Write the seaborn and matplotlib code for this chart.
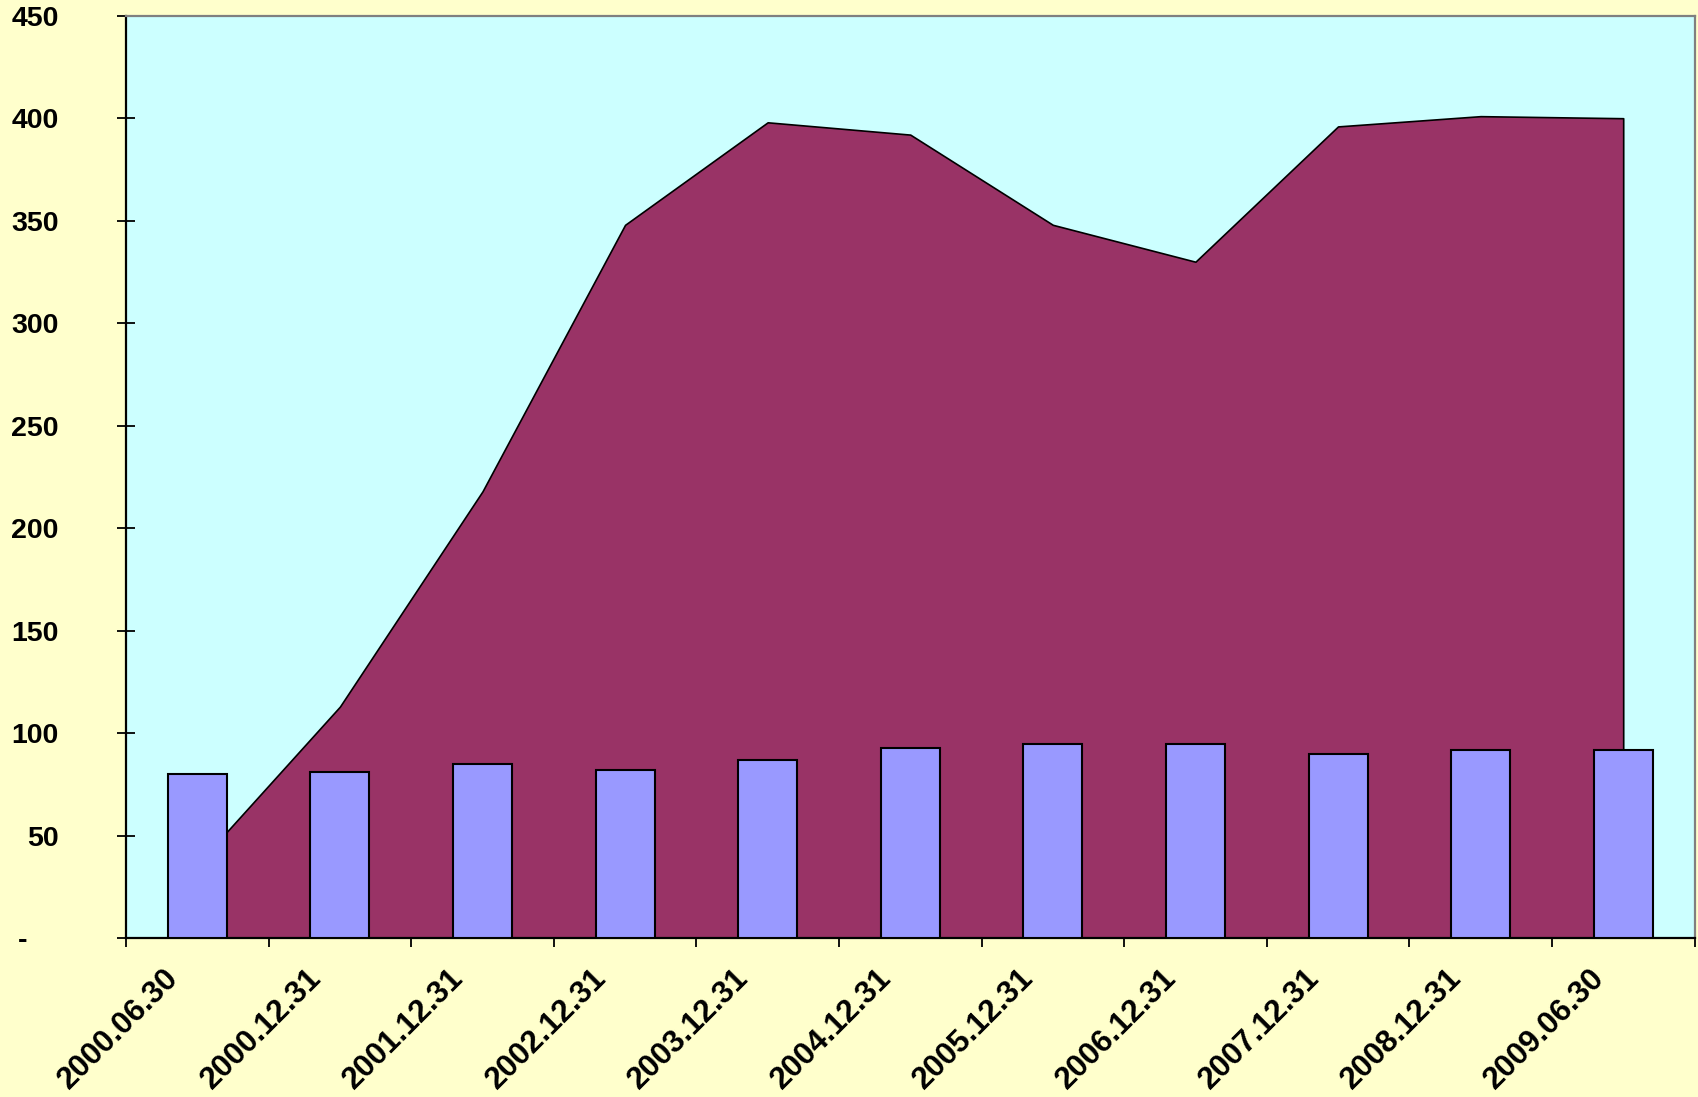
import matplotlib
matplotlib.use("Agg")
import matplotlib.pyplot as plt
from matplotlib.transforms import ScaledTranslation
from matplotlib.ticker import FixedLocator, FuncFormatter
import seaborn as sns
import pandas as pd
import numpy as np

# ---- data ----
categories = ["2000.06.30", "2000.12.31", "2001.12.31", "2002.12.31", "2003.12.31",
              "2004.12.31", "2005.12.31", "2006.12.31", "2007.12.31", "2008.12.31",
              "2009.06.30"]
area_values = [36, 113, 218, 348, 398, 392, 348, 330, 396, 401, 400]
bar_values = [80, 81, 85, 82, 87, 93, 95, 95, 90, 92, 92]
y_ticks = [0, 50, 100, 150, 200, 250, 300, 350, 400, 450]

df = pd.DataFrame({"date": categories, "bar": bar_values, "area": area_values})

sns.set_theme(style="white")
plt.rcParams["font.family"] = ["Liberation Sans", "DejaVu Sans"]
plt.rcParams["text.color"] = "black"
plt.rcParams["xtick.color"] = "black"
plt.rcParams["ytick.color"] = "black"

fig = plt.figure(figsize=(16.98, 10.97), dpi=100, facecolor="#FFFFCC")
ax = fig.add_axes([126 / 1698, 1 - 938.3 / 1097, (1694.5 - 126) / 1698, (938.3 - 15.7) / 1097])
ax.set_facecolor("#CCFFFF")

# area series at category centres
xpos = np.arange(len(categories))
ax.fill_between(xpos, 0, df["area"], facecolor="#993366", edgecolor="black",
                linewidth=1.2, zorder=1)

# bars on top
sns.barplot(data=df, x="date", y="bar", ax=ax, color="#9999FF", saturation=1,
            width=0.414, edgecolor="black", linewidth=1.5, zorder=3)
for p in ax.patches:
    p.set_zorder(3)

ax.set_xlim(-0.5, len(categories) - 0.5)
ax.set_ylim(0, 450)
ax.set_xlabel("")
ax.set_ylabel("")

# spines
for side in ["left", "bottom"]:
    ax.spines[side].set_color("black")
    ax.spines[side].set_linewidth(1.6)
for side in ["top", "right"]:
    ax.spines[side].set_color("#808080")
    ax.spines[side].set_linewidth(1.6)

# y axis
ax.yaxis.set_major_locator(FixedLocator(y_ticks))
ax.yaxis.set_major_formatter(FuncFormatter(lambda v, p: "-    " if v == 0 else f"{int(v)}"))
ax.tick_params(axis="y", which="major", direction="inout", length=13, width=1.3,
               color="black", labelcolor="black", left=True, pad=42, labelsize=20.5)
for lab in ax.get_yticklabels():
    lab.set_fontweight("bold")
    lab.set_color("black")

# x axis: labels at centres, ticks at boundaries
ax.set_xticks(xpos)
ax.set_xticklabels(categories, rotation=45, ha="right", va="top",
                   rotation_mode="anchor", fontsize=22.5, fontweight="bold", color="black")
ax.set_xticks(np.arange(-0.5, len(categories)), minor=True)
ax.tick_params(axis="x", which="major", length=0, pad=0, bottom=True)
ax.tick_params(axis="x", which="minor", direction="inout", length=13, width=1.3,
               color="black", bottom=True)
offset = ScaledTranslation(-34 / 100, -25 / 100, fig.dpi_scale_trans)
for lab in ax.get_xticklabels():
    lab.set_transform(lab.get_transform() + offset)

fig.savefig("out.png", dpi=100, facecolor=fig.get_facecolor())
